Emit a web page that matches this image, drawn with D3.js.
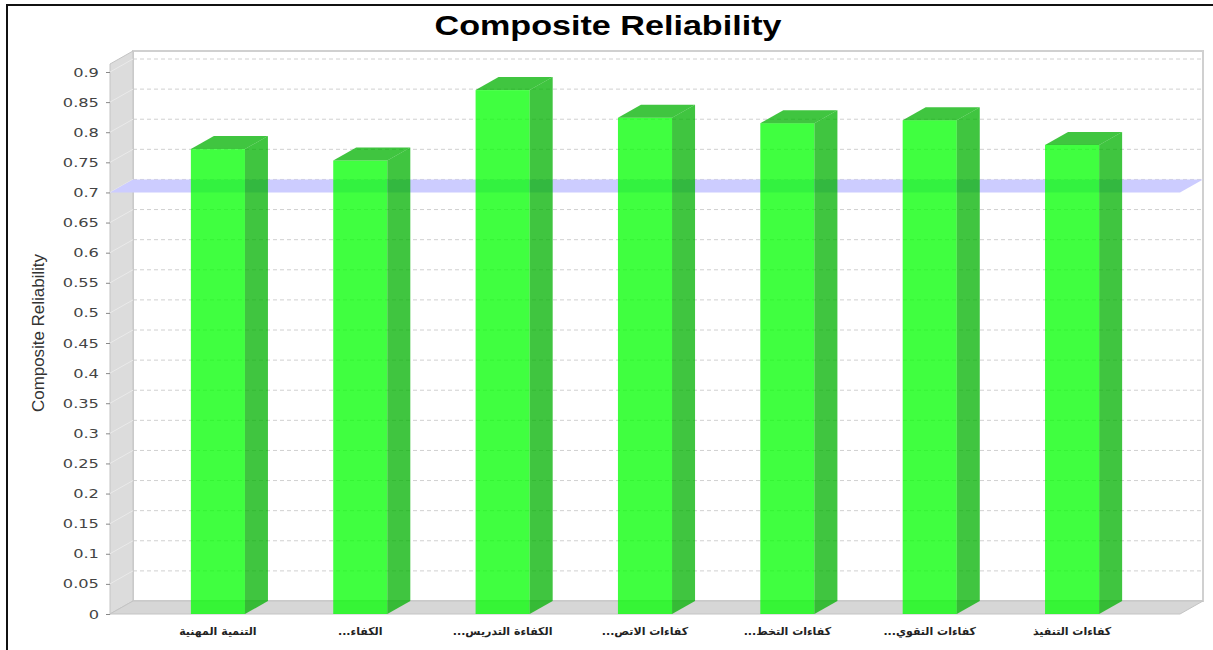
<!DOCTYPE html>
<html>
<head>
<meta charset="utf-8">
<script src="https://cdn.jsdelivr.net/npm/d3@7"></script>
<style>
  body { margin: 0; background: #fff; }
  svg { display: block; }
</style>
</head>
<body>
<svg id="chart" width="1213" height="650"></svg>
<script>
// Chart data
const categories = [
  "التنمية المهنية",
  "الكفاء...",
  "الكفاءة التدريس...",
  "كفاءات الاتص...",
  "كفاءات التخط...",
  "كفاءات التقوي...",
  "كفاءات التنفيذ"
];
const reliability = [0.772, 0.753, 0.870, 0.824, 0.815, 0.820, 0.779];
const tickValues = [0, 0.05, 0.1, 0.15, 0.2, 0.25, 0.3, 0.35, 0.4, 0.45, 0.5, 0.55, 0.6, 0.65, 0.7, 0.75, 0.8, 0.85, 0.9];
const tickLabels = ["0", "0.05", "0.1", "0.15", "0.2", "0.25", "0.3", "0.35", "0.4", "0.45", "0.5", "0.55", "0.6", "0.65", "0.7", "0.75", "0.8", "0.85", "0.9"];
const threshold = 0.7;

function drawChart() {
  const svg = d3.select("#chart");
  const left = 110, right = 1180, top = 64, bottom = 614;
  const dx = 23, dy = 13; // 3D depth offset

  const x = d3.scaleBand()
    .domain(categories)
    .range([left, right])
    .paddingInner(0.62)
    .paddingOuter(0.568);

  const y = d3.scaleLinear()
    .domain([0, 0.9133])
    .range([bottom, top]);

  // outer border
  svg.append("rect")
    .attr("x", 7).attr("y", 5)
    .attr("width", 1400).attr("height", 800)
    .attr("fill", "#fff")
    .attr("stroke", "#111")
    .attr("stroke-width", 2);

  // title
  svg.append("text")
    .attr("x", 608).attr("y", 35)
    .attr("text-anchor", "middle")
    .attr("textLength", 347)
    .attr("lengthAdjust", "spacingAndGlyphs")
    .style("font-family", "'Liberation Sans', Arial, sans-serif")
    .style("font-weight", "bold")
    .style("font-size", "28px")
    .attr("fill", "#000")
    .text("Composite Reliability");

  // back wall
  svg.append("rect")
    .attr("x", left + dx).attr("y", top - dy)
    .attr("width", right - left).attr("height", bottom - top)
    .attr("fill", "#fff")
    .attr("stroke", "#d0d0d0")
    .attr("stroke-width", 2);

  // gridlines on back wall
  svg.append("g")
    .selectAll("line")
    .data(tickValues.filter(d => d > 0))
    .join("line")
    .attr("x1", left + dx).attr("x2", right + dx)
    .attr("y1", d => y(d) - dy).attr("y2", d => y(d) - dy)
    .attr("stroke", "#d0d0d0")
    .attr("stroke-dasharray", "4,3");

  // left wall
  svg.append("path")
    .attr("d", `M${left},${bottom}L${left},${top}L${left + dx},${top - dy}L${left + dx},${bottom - dy}Z`)
    .attr("fill", "#dcdcdc")
    .attr("stroke", "#c4c4c4");

  svg.append("g")
    .selectAll("line")
    .data(tickValues.filter(d => d > 0))
    .join("line")
    .attr("x1", left).attr("x2", left + dx)
    .attr("y1", d => y(d)).attr("y2", d => y(d) - dy)
    .attr("stroke", "#eaeaea");

  // floor
  svg.append("path")
    .attr("d", `M${left},${bottom}L${right},${bottom}L${right + dx},${bottom - dy}L${left + dx},${bottom - dy}Z`)
    .attr("fill", "#d6d6d6")
    .attr("stroke", "#c4c4c4");

  // threshold band at 0.7
  const ty = y(threshold);
  svg.append("path")
    .attr("d", `M${left},${ty}L${right},${ty}L${right + dx},${ty - dy}L${left + dx},${ty - dy}Z`)
    .attr("fill", "#ccccff");

  // bars (front, side, top)
  const bw = x.bandwidth();
  const bars = svg.append("g")
    .selectAll("g")
    .data(categories.map((c, i) => ({ cat: c, value: reliability[i] })))
    .join("g");

  bars.append("rect")
    .attr("x", d => x(d.cat))
    .attr("y", d => y(d.value))
    .attr("width", bw)
    .attr("height", d => y(0) - y(d.value))
    .attr("fill", "#00ff00")
    .attr("fill-opacity", 0.75);

  bars.append("path")
    .attr("d", d => {
      const x1 = x(d.cat) + bw, yt = y(d.value);
      return `M${x1},${y(0)}L${x1},${yt}L${x1 + dx},${yt - dy}L${x1 + dx},${y(0) - dy}Z`;
    })
    .attr("fill", "#00b200")
    .attr("fill-opacity", 0.75);

  bars.append("path")
    .attr("d", d => {
      const x0 = x(d.cat), yt = y(d.value);
      return `M${x0},${yt}L${x0 + bw},${yt}L${x0 + bw + dx},${yt - dy}L${x0 + dx},${yt - dy}Z`;
    })
    .attr("fill", "#00b200")
    .attr("fill-opacity", 0.75);

  // y axis
  const yAxis = svg.append("g")
    .attr("transform", `translate(${left},0)`)
    .call(d3.axisLeft(y)
      .tickValues(tickValues)
      .tickFormat((d, i) => tickLabels[i])
      .tickSize(4)
      .tickPadding(6));
  yAxis.select(".domain").remove();
  yAxis.selectAll(".tick line").attr("stroke", "#888");
  yAxis.selectAll(".tick text")
    .attr("x", -8.5)
    .attr("transform", "scale(1.3,1)")
    .style("font-family", "'DejaVu Sans', sans-serif")
    .style("font-size", "12.5px")
    .attr("fill", "#444");

  // x labels (Arabic, right-to-left)
  svg.append("g")
    .selectAll("text")
    .data(categories)
    .join("text")
    .attr("x", d => x(d) + bw / 2)
    .attr("y", 635)
    .attr("direction", "rtl")
    .attr("text-anchor", "middle")
    .style("font-family", "'DejaVu Sans', sans-serif")
    .style("font-size", "11px")
    .style("font-weight", "bold")
    .attr("fill", "#222")
    .text(d => d);

  // y axis label
  svg.append("text")
    .attr("transform", "translate(44,333) rotate(-90)")
    .attr("text-anchor", "middle")
    .attr("textLength", 158)
    .attr("lengthAdjust", "spacingAndGlyphs")
    .style("font-family", "'Liberation Sans', Arial, sans-serif")
    .style("font-size", "16px")
    .attr("fill", "#333")
    .text("Composite Reliability");
}

drawChart();
</script>
</body>
</html>
